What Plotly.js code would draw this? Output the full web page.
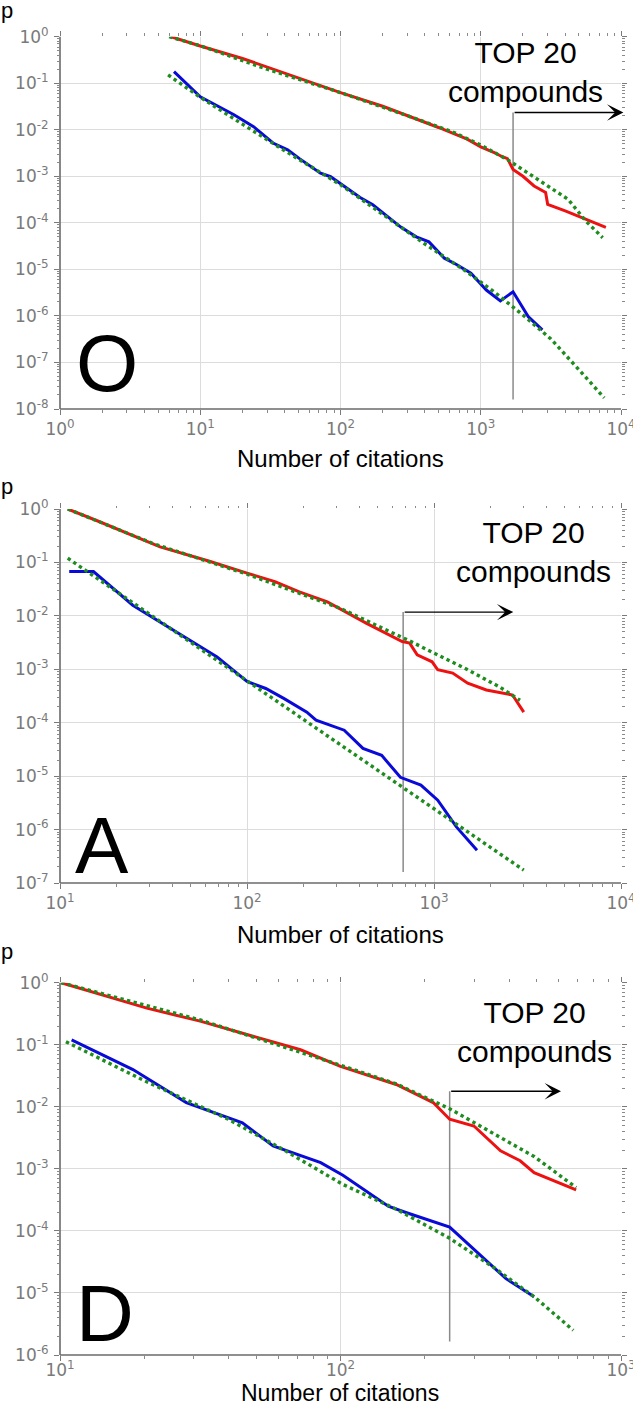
<!DOCTYPE html>
<html><head><meta charset="utf-8">
<script src="https://cdn.plot.ly/plotly-3.0.1.min.js"></script>
<style>html,body{margin:0;padding:0;background:#fff}#chart{width:633px;height:1407px}</style>
</head><body><div id="chart"></div>
<script>
// ---------- Panel O ----------
const oRedX = [6.2, 10, 20, 50, 100, 200, 316, 500, 800, 1000, 1260, 1400, 1550, 1700, 2000, 2400, 2900, 3000, 4000, 5600, 7800];
const oRedY = [1.0, 0.63, 0.34, 0.128, 0.063, 0.032, 0.019, 0.0112, 0.0063, 0.0043, 0.0032, 0.0027, 0.0024, 0.0014, 0.001, 0.00062, 0.00045, 0.00025, 0.00018, 0.00012, 0.00008];
const oRedFitX = [6.0, 10, 30, 100, 316, 630, 1000, 1580, 2500, 4200, 5600, 7400];
const oRedFitY = [1.0, 0.64, 0.2, 0.063, 0.019, 0.009, 0.0047, 0.0022, 0.00089, 0.00032, 0.00011, 0.000048];
const oBlueX = [6.5, 10, 17.4, 24, 33, 42, 51, 72, 85, 138, 170, 214, 269, 347, 427, 550, 676, 851, 1096, 1380, 1700, 2190, 2750];
const oBlueY = [0.178, 0.051, 0.021, 0.0117, 0.0052, 0.0037, 0.0024, 0.00117, 0.00098, 0.00035, 0.000245, 0.000138, 0.000081, 0.00005, 0.000039, 0.0000174, 0.0000126, 0.0000083, 0.0000036, 0.0000021, 0.0000033, 0.00000095, 0.0000005];
const oBlueFitX = [5.9, 10, 20, 40, 100, 200, 398, 794, 1259, 1995, 3162, 5012, 7586];
const oBlueFitY = [0.151, 0.05, 0.0132, 0.00355, 0.00066, 0.000151, 0.0000355, 0.0000089, 0.0000032, 0.00000105, 0.00000032, 0.00000007, 0.0000000174];
const oCutX = [1700, 1700];
const oCutY = [0.000000016, 0.0235];
const oArrowEndX = 10400;
const oXExp = [0, 1, 2, 3, 4];
const oYExp = [0, -1, -2, -3, -4, -5, -6, -7, -8];

// ---------- Panel A ----------
const aRedX = [11, 15.8, 34.3, 63, 100, 141, 190.5, 269, 436, 676, 741, 813, 977, 1047, 1259, 1514, 1905, 2630, 3020];
const aRedY = [1, 0.603, 0.195, 0.105, 0.063, 0.0437, 0.0282, 0.0182, 0.00724, 0.00331, 0.00309, 0.00186, 0.00138, 0.00098, 0.00085, 0.00055, 0.00041, 0.00033, 0.000158];
const aRedFitX = [11, 31.6, 100, 316, 741, 1000, 1514, 2239, 2884];
const aRedFitY = [1, 0.224, 0.0603, 0.0138, 0.00339, 0.00204, 0.00098, 0.000468, 0.000263];
const aBlueX = [11.2, 15.1, 24.5, 49.5, 69.2, 100, 126, 158, 209, 234, 331, 417, 525, 661, 851, 1047, 1318, 1698];
const aBlueY = [0.0676, 0.0676, 0.0158, 0.00355, 0.0017, 0.00059, 0.000437, 0.000282, 0.000158, 0.000112, 0.0000724, 0.0000331, 0.0000245, 0.0000095, 0.0000068, 0.00000355, 0.00000112, 0.00000041];
const aBlueFitX = [11, 3020];
const aBlueFitY = [0.12, 0.000000174];
const aCutX = [684, 684];
const aCutY = [0.00000016, 0.01175];
const aArrowEndX = 2655;
const aXExp = [1, 2, 3, 4];
const aYExp = [0, -1, -2, -3, -4, -5, -6, -7];

// ---------- Panel D ----------
const dRedX = [10.1, 20.4, 31.6, 44.7, 72, 100, 126, 158, 214, 245, 299, 372, 437, 490, 692];
const dRedY = [1, 0.389, 0.24, 0.155, 0.083, 0.0447, 0.0316, 0.0229, 0.0117, 0.0063, 0.0049, 0.00195, 0.00135, 0.00087, 0.000457];
const dRedFitX = [10.1, 31.6, 100, 158, 245, 331, 490, 692];
const dRedFitY = [1, 0.251, 0.0468, 0.0234, 0.0093, 0.00437, 0.00158, 0.0005];
const dBlueX = [11, 18.2, 28.2, 44.7, 57.5, 85, 102, 148, 170, 245, 389, 490];
const dBlueY = [0.12, 0.0398, 0.0117, 0.0055, 0.00234, 0.00126, 0.00079, 0.00025, 0.0002, 0.000115, 0.000017, 0.0000087];
const dBlueFitX = [10.5, 20, 39.8, 63, 102, 158, 245, 355, 490, 676];
const dBlueFitY = [0.112, 0.0263, 0.0063, 0.002, 0.00056, 0.000224, 0.0000759, 0.0000251, 0.0000087, 0.0000025];
const dCutX = [245, 245];
const dCutY = [0.00000165, 0.0178];
const dArrowEndX = 611;
const dXExp = [1, 2, 3];
const dYExp = [0, -1, -2, -3, -4, -5, -6];

const panelLetters = ['O', 'A', 'D'];
const topText = 'TOP 20<br>compounds';
const xTitle = 'Number of citations';
const yTitle = 'p';

// ---------- build ----------
const W = 633, H = 1407;
const RED = '#ee1111', BLUE = '#0a0ad8', GREEN = '#1e8c1e', CUT = '#8a8a8a';
const panels = [
  {red:[oRedX,oRedY], redFit:[oRedFitX,oRedFitY], blue:[oBlueX,oBlueY], blueFit:[oBlueFitX,oBlueFitY],
   cut:[oCutX,oCutY], arrowEnd:oArrowEndX, xExp:oXExp, yExp:oYExp,
   top:36.7, bottom:409, textX:2100, textLogY:-0.753, titleY:458, titleSize:24, pY:10, letter:[107,364], xStand:0},
  {red:[aRedX,aRedY], redFit:[aRedFitX,aRedFitY], blue:[aBlueX,aBlueY], blueFit:[aBlueFitX,aBlueFitY],
   cut:[aCutX,aCutY], arrowEnd:aArrowEndX, xExp:aXExp, yExp:aYExp,
   top:509, bottom:883, textX:3400, textLogY:-0.805, titleY:934, titleSize:24, pY:486, letter:[102,845], xStand:0},
  {red:[dRedX,dRedY], redFit:[dRedFitX,dRedFitY], blue:[dBlueX,dBlueY], blueFit:[dBlueFitX,dBlueFitY],
   cut:[dCutX,dCutY], arrowEnd:dArrowEndX, xExp:dXExp, yExp:dYExp,
   top:982.7, bottom:1355, textX:490, textLogY:-0.8, titleY:null, titleSize:23, pY:951, letter:[105,1313], xStand:-5}
];

const traces = [];
const layout = {
  width: W, height: H, margin: {l:0, r:0, t:0, b:0},
  paper_bgcolor: '#fff', plot_bgcolor: '#fff', showlegend: false,
  annotations: [], shapes: []
};
const tickFont = {family: 'DejaVu Sans', size: 17, color: '#7a7a7a'};
const xDom = [60/W, 621/W];

function pow10Labels(exps){ return exps.map(e => '10<sup>' + e + '</sup>'); }
function pow10Vals(exps){ return exps.map(e => Math.pow(10, e)); }

panels.forEach((p, i) => {
  const n = i === 0 ? '' : String(i + 1);
  const xa = 'x' + n, ya = 'y' + n;
  const line = (d, color, dash, width) => ({
    type: 'scatter', mode: 'lines', x: d[0], y: d[1], xaxis: xa, yaxis: ya,
    line: {color: color, width: width, dash: dash}, hoverinfo: 'skip'
  });
  traces.push(line(p.cut, CUT, 'solid', 1.5));
  traces.push(line(p.red, RED, 'solid', 3));
  traces.push(line(p.blue, BLUE, 'solid', 3));
  traces.push(line(p.redFit, GREEN, 'dot', 3.4));
  traces.push(line(p.blueFit, GREEN, 'dot', 3.4));

  const common = {
    type: 'log', showline: true, linecolor: 'rgba(0,0,0,0)', linewidth: 1, mirror: 'ticks',
    ticks: 'outside', ticklen: 5, tickwidth: 1, tickcolor: '#7a7a7a',
    showgrid: true, gridcolor: '#dcdcdc', gridwidth: 1, zeroline: false,
    tickmode: 'array', tickfont: tickFont, fixedrange: true, ticklabeloverflow: 'allow',
    minor: {ticks: 'outside', ticklen: 2.5, tickwidth: 1, tickcolor: '#8a8a8a', dtick: 'D1', showgrid: false}
  };
  layout['xaxis' + n] = Object.assign({}, common, {
    domain: xDom, anchor: ya, range: [p.xExp[0], p.xExp[p.xExp.length - 1]],
    tickvals: pow10Vals(p.xExp), ticktext: pow10Labels(p.xExp), ticklabelstandoff: p.xStand
  });
  layout['yaxis' + n] = Object.assign({}, common, {
    domain: [1 - p.bottom / H, 1 - p.top / H], anchor: xa,
    range: [p.yExp[p.yExp.length - 1], p.yExp[0]],
    tickvals: pow10Vals(p.yExp), ticktext: pow10Labels(p.yExp), ticklabelstandoff: 2
  });

  layout.shapes.push({type:'line', xref: xa + ' domain', yref: ya + ' domain', x0:0, x1:0, y0:0, y1:1, line:{color:'#6a6a6a', width:1.6}});
  layout.shapes.push({type:'line', xref: xa + ' domain', yref: ya + ' domain', x0:0, x1:1, y0:0, y1:0, line:{color:'#6a6a6a', width:1.6}});

  const cutTopY = p.cut[1][1];
  layout.annotations.push({
    xref: xa, yref: ya, axref: xa, ayref: ya,
    x: Math.log10(p.arrowEnd), y: Math.log10(cutTopY),
    ax: Math.log10(p.cut[0][1]), ay: Math.log10(cutTopY),
    text: '', showarrow: true, arrowhead: 3, arrowsize: 2.1, arrowwidth: 1.3, arrowcolor: '#000',
    standoff: 0, startstandoff: 0
  });
  layout.annotations.push({
    xref: xa, yref: ya, x: Math.log10(p.textX), y: p.textLogY,
    text: topText, showarrow: false, align: 'center', xanchor: 'center', yanchor: 'middle',
    font: {family: 'Liberation Sans, Arial, sans-serif', size: 30, color: '#000'}
  });
  const titleAnn = {
    xref: 'paper', yref: 'paper', x: 340.5 / W,
    text: xTitle, showarrow: false, xanchor: 'center', borderpad: 0,
    font: {family: 'Liberation Sans, Arial, sans-serif', size: p.titleSize, color: '#000'}
  };
  if (p.titleY === null) { titleAnn.y = 0; titleAnn.yanchor = 'bottom'; }
  else { titleAnn.y = 1 - p.titleY / H; titleAnn.yanchor = 'middle'; }
  layout.annotations.push(titleAnn);
  layout.annotations.push({
    xref: 'paper', yref: 'paper', x: 7 / W, y: 1 - p.pY / H,
    text: yTitle, showarrow: false, xanchor: 'center', yanchor: 'middle',
    font: {family: 'Liberation Sans, Arial, sans-serif', size: 22, color: '#000'}
  });
  layout.annotations.push({
    xref: 'paper', yref: 'paper', x: p.letter[0] / W, y: 1 - p.letter[1] / H,
    text: panelLetters[i], showarrow: false, xanchor: 'center', yanchor: 'middle',
    font: {family: 'Liberation Sans, Arial, sans-serif', size: 80, color: '#000'}
  });
});

Plotly.newPlot('chart', traces, layout, {displayModeBar: false, staticPlot: true});
</script>
</body></html>
